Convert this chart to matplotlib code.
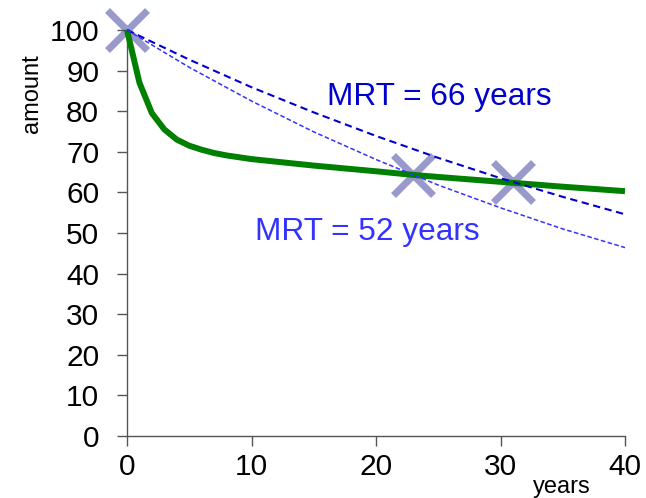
import matplotlib
matplotlib.use("Agg")
import matplotlib.pyplot as plt

plt.rcParams['font.family'] = ['Liberation Sans', 'DejaVu Sans']

# Data
years_green = [0, 1, 2, 3, 4, 5, 6, 7, 8, 10, 15, 20, 23, 25, 30, 35, 40]
amount_green = [100, 87, 79.5, 75.5, 73, 71.5, 70.5, 69.7, 69.1, 68.2, 66.6, 65.2, 64.3, 63.8, 62.6, 61.4, 60.3]

years_mrt = [0, 5, 10, 15, 20, 25, 30, 35, 40]
amount_mrt66 = [100, 92.7, 85.9, 79.7, 73.9, 68.5, 63.5, 58.9, 54.6]
amount_mrt52 = [100, 90.8, 82.5, 74.9, 68.1, 61.8, 56.2, 51.0, 46.4]

cross_x = [0, 23, 31]
cross_y = [100, 64.3, 62.6]

fig = plt.figure(figsize=(6.46, 4.98), dpi=100)
ax = fig.add_axes([0.1966, 0.1245, 0.7709, 0.8153])

ax.plot(cross_x, cross_y, linestyle='none', marker='x', markersize=29,
        markeredgewidth=5, color='#9999cc', zorder=1, clip_on=False)
ax.plot(years_green, amount_green, color='#008000', linewidth=4.3, zorder=3,
        solid_capstyle='butt', solid_joinstyle='round', clip_on=False)
ax.plot(years_mrt, amount_mrt66, color='#0000cc', linewidth=1.5,
        dashes=(3.5, 2.2), zorder=4, clip_on=False)
ax.plot(years_mrt, amount_mrt52, color='#3333ff', linewidth=1.1,
        dashes=(3, 1.6), zorder=4, clip_on=False)

ax.text(16.1, 83.5, "MRT = 66 years", color='#0000cc', fontsize=22.8,
        ha='left', va='center')
ax.text(10.3, 50.2, "MRT = 52 years", color='#3333ff', fontsize=22.8,
        ha='left', va='center')

ax.set_xlim(0, 40)
ax.set_ylim(0, 100)
ax.set_xticks([0, 10, 20, 30, 40])
ax.set_yticks(range(0, 101, 10))
for s in ['top', 'right']:
    ax.spines[s].set_visible(False)
for s in ['left', 'bottom']:
    ax.spines[s].set_color('#555555')
    ax.spines[s].set_linewidth(1)
ax.tick_params(axis='both', colors='#555555', labelcolor='black',
               labelsize=21.5, length=7, width=1)
ax.tick_params(axis='y', pad=13)
ax.tick_params(axis='x', pad=5)

fig.text(32 / 646, 1 - 94 / 498, "amount", rotation=90, fontsize=17,
         ha='center', va='center')
fig.text(562 / 646, 1 - 487 / 498, "years", fontsize=17,
         ha='center', va='center')

fig.savefig("out.png", dpi=100)
